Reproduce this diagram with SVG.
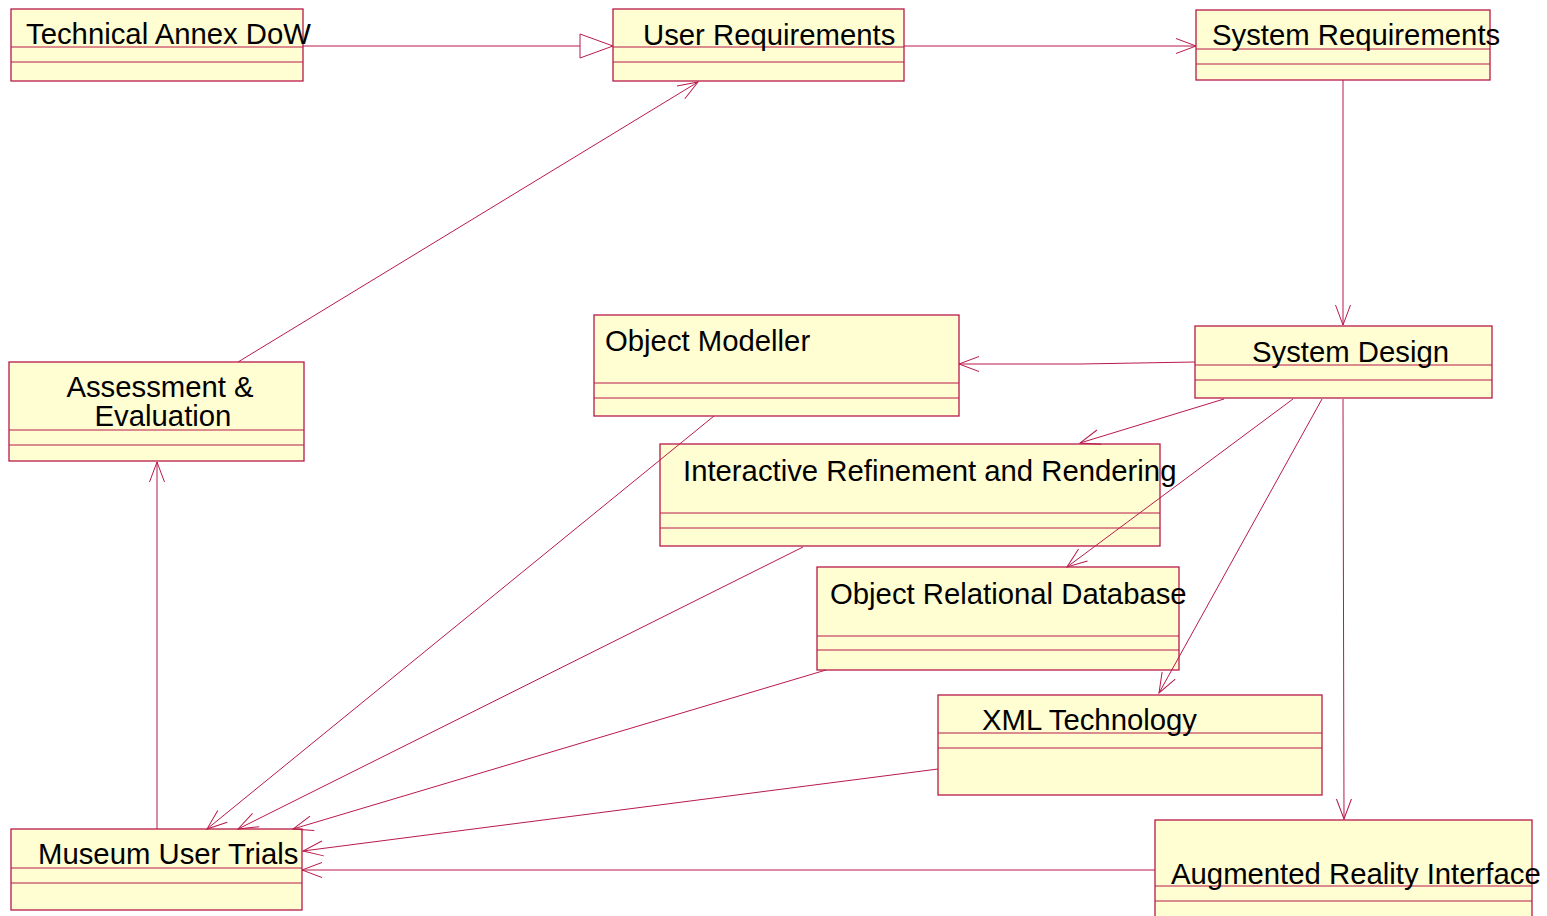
<svg xmlns="http://www.w3.org/2000/svg" width="1547" height="916" viewBox="0 0 1547 916">
<style>
.box{fill:#FFFDD2;stroke:#B81A4A;stroke-width:1.3}
.div{stroke:#B81A4A;stroke-width:1;fill:none}
.lbl{font-family:"Liberation Sans",Arial,sans-serif;font-size:29.3px;fill:#000}
.c{stroke:#B81A4A;stroke-width:1;fill:none;marker-end:url(#open)}
</style>
<defs>
<marker id="open" markerUnits="userSpaceOnUse" markerWidth="24" markerHeight="20" viewBox="-22 -10 24 20" refX="0" refY="0" orient="auto">
<path d="M-20,-7.5 L0,0 L-20,7.5" fill="none" stroke="#B81A4A" stroke-width="1"/>
</marker>
<marker id="tri" markerUnits="userSpaceOnUse" markerWidth="36" markerHeight="28" viewBox="-34 -14 36 28" refX="0" refY="0" orient="auto">
<path d="M-33,-12 L0,0 L-33,12 Z" fill="#fff" stroke="#B81A4A" stroke-width="1"/>
</marker>
</defs>
<rect width="1547" height="916" fill="#fff"/>
<g id="technical-annex">
<rect class="box" x="11" y="9" width="292" height="72"/>
<line class="div" x1="11" y1="47" x2="303" y2="47"/>
<line class="div" x1="11" y1="62" x2="303" y2="62"/>
<text class="lbl" x="26" y="44">Technical Annex DoW</text>
</g>
<g id="user-requirements">
<rect class="box" x="613" y="9" width="291" height="72"/>
<line class="div" x1="613" y1="47" x2="904" y2="47"/>
<line class="div" x1="613" y1="62" x2="904" y2="62"/>
<text class="lbl" x="643" y="45">User Requirements</text>
</g>
<g id="system-requirements">
<rect class="box" x="1196" y="10" width="294" height="70"/>
<line class="div" x1="1196" y1="49" x2="1490" y2="49"/>
<line class="div" x1="1196" y1="64" x2="1490" y2="64"/>
<text class="lbl" x="1212" y="45">System Requirements</text>
</g>
<g id="object-modeller">
<rect class="box" x="594" y="315" width="365" height="101"/>
<line class="div" x1="594" y1="383" x2="959" y2="383"/>
<line class="div" x1="594" y1="398" x2="959" y2="398"/>
<text class="lbl" x="605" y="351">Object Modeller</text>
</g>
<g id="system-design">
<rect class="box" x="1195" y="326" width="297" height="72"/>
<line class="div" x1="1195" y1="365" x2="1492" y2="365"/>
<line class="div" x1="1195" y1="380" x2="1492" y2="380"/>
<text class="lbl" x="1252" y="362">System Design</text>
</g>
<g id="assessment-evaluation">
<rect class="box" x="9" y="362" width="295" height="99"/>
<line class="div" x1="9" y1="430" x2="304" y2="430"/>
<line class="div" x1="9" y1="445" x2="304" y2="445"/>
<text class="lbl" x="160" y="397" text-anchor="middle">Assessment &amp;</text>
<text class="lbl" x="163" y="426" text-anchor="middle">Evaluation</text>
</g>
<g id="interactive-refinement">
<rect class="box" x="660" y="444" width="500" height="102"/>
<line class="div" x1="660" y1="513" x2="1160" y2="513"/>
<line class="div" x1="660" y1="528" x2="1160" y2="528"/>
<text class="lbl" x="683" y="481">Interactive Refinement and Rendering</text>
</g>
<g id="object-relational-database">
<rect class="box" x="817" y="567" width="362" height="103"/>
<line class="div" x1="817" y1="636" x2="1179" y2="636"/>
<line class="div" x1="817" y1="650" x2="1179" y2="650"/>
<text class="lbl" x="830" y="604">Object Relational Database</text>
</g>
<g id="xml-technology">
<rect class="box" x="938" y="695" width="384" height="100"/>
<line class="div" x1="938" y1="733" x2="1322" y2="733"/>
<line class="div" x1="938" y1="748" x2="1322" y2="748"/>
<text class="lbl" x="982" y="730">XML Technology</text>
</g>
<g id="museum-user-trials">
<rect class="box" x="11" y="829" width="291" height="81"/>
<line class="div" x1="11" y1="868" x2="302" y2="868"/>
<line class="div" x1="11" y1="883" x2="302" y2="883"/>
<text class="lbl" x="38" y="864">Museum User Trials</text>
</g>
<g id="augmented-reality-interface">
<rect class="box" x="1155" y="820" width="377" height="120"/>
<line class="div" x1="1155" y1="886" x2="1532" y2="886"/>
<line class="div" x1="1155" y1="901" x2="1532" y2="901"/>
<text class="lbl" x="1171" y="884">Augmented Reality Interface</text>
</g>
<g id="connectors">
<line x1="303" y1="46" x2="613" y2="46" stroke="#B81A4A" stroke-width="1" marker-end="url(#tri)"/>
<line class="c" x1="904" y1="46" x2="1196" y2="46"/>
<line class="c" x1="1343" y1="80" x2="1343" y2="325"/>
<polyline class="c" points="1195,362 1080,364 959,364"/>
<line class="c" x1="1224" y1="399" x2="1080" y2="443"/>
<line class="c" x1="1293" y1="399" x2="1067" y2="567"/>
<line class="c" x1="1322" y1="399" x2="1159" y2="693"/>
<line class="c" x1="1343" y1="399" x2="1344" y2="819"/>
<line class="c" x1="238" y1="362" x2="698" y2="82"/>
<line class="c" x1="157" y1="829" x2="157" y2="462"/>
<line class="c" x1="714" y1="416" x2="207" y2="829"/>
<line class="c" x1="803" y1="547" x2="238" y2="829"/>
<line class="c" x1="826" y1="670" x2="293" y2="829"/>
<line class="c" x1="938" y1="769" x2="303" y2="851"/>
<line class="c" x1="1155" y1="870" x2="302" y2="870"/>
</g>
</svg>
